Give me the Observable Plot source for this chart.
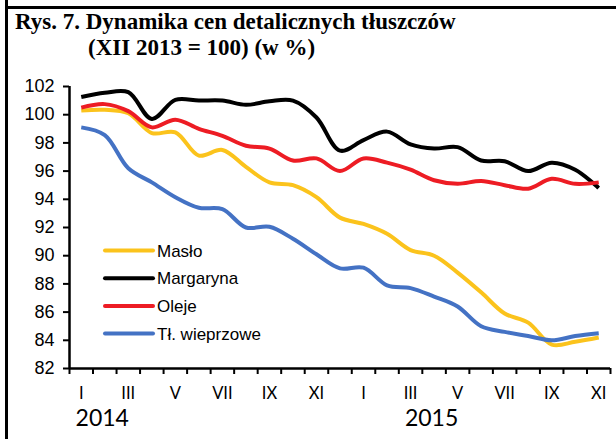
<!DOCTYPE html>
<html>
<head>
<meta charset="utf-8">
<script src="https://cdn.jsdelivr.net/npm/d3@7"></script>
<script src="https://cdn.jsdelivr.net/npm/@observablehq/plot@0.6"></script>
<style>
  body { margin: 0; background: #fff; }
  #fig { position: relative; width: 616px; height: 439px; overflow: hidden; background: #fff; }
  .frame-top { position: absolute; left: 5px; top: 6px; width: 611px; height: 2.5px; background: #000; }
  .frame-left { position: absolute; left: 5px; top: 0; width: 2.5px; height: 439px; background: #000; }
  .title { position: absolute; font-family: "Liberation Serif", "Times New Roman", serif; font-weight: bold;
           font-size: 23px; line-height: 26px; white-space: nowrap; color: #000; }
  #chart { position: absolute; left: 0; top: 66px; }
</style>
</head>
<body>
<div id="fig">
  <div class="frame-top"></div>
  <div class="frame-left"></div>
  <div class="title" style="left:15px; top:9px;">Rys. 7. Dynamika cen detalicznych tłuszczów</div>
  <div class="title" style="left:88px; top:35px;">(XII 2013 = 100) (w %)</div>
  <div id="chart"></div>
</div>
<script>
// Months I 2014 – XI 2015
const months = ["I","II","III","IV","V","VI","VII","VIII","IX","X","XI","XII",
                "I","II","III","IV","V","VI","VII","VIII","IX","X","XI"];
const yearLabels = ["2014", "2015"];
const yearAt = [1, 15];
const yTicks = [82, 84, 86, 88, 90, 92, 94, 96, 98, 100, 102];

// Retail price indices, XII 2013 = 100
const maslo     = [100.3, 100.35, 100.1, 98.7, 98.75, 97.1, 97.5, 96.3, 95.2, 95.0, 94.15, 92.7,
                   92.25, 91.55, 90.4, 90.0, 88.8, 87.4, 85.9, 85.25, 83.7, 83.9, 84.2];
const margaryna = [101.25, 101.55, 101.6, 99.7, 101.05, 101.0, 101.0, 100.7, 100.95, 101.0, 99.8, 97.45,
                   98.2, 98.8, 97.9, 97.6, 97.7, 96.75, 96.7, 96.0, 96.6, 96.1, 94.8];
const oleje     = [100.5, 100.75, 100.25, 99.1, 99.65, 99.0, 98.5, 97.8, 97.6, 96.75, 96.9, 96.0,
                   96.9, 96.6, 96.1, 95.35, 95.1, 95.3, 95.0, 94.75, 95.45, 95.1, 95.2];
const wieprzowe = [99.1, 98.55, 96.2, 95.2, 94.15, 93.4, 93.3, 92.0, 92.05, 91.2, 90.1, 89.1,
                   89.15, 87.9, 87.7, 87.1, 86.4, 85.0, 84.6, 84.3, 84.0, 84.3, 84.5];

const seriesNames = ["Masło", "Margaryna", "Oleje", "Tł. wieprzowe"];
const seriesValues = [maslo, margaryna, oleje, wieprzowe];
const seriesColors = ["#FBC31C", "#000000", "#ED1C24", "#4472C4"];

const rows = seriesNames.flatMap((name, s) =>
  seriesValues[s].map((v, i) => ({series: name, i, v})));

const chart = Plot.plot({
  width: 616,
  height: 373,
  marginTop: 20,
  marginBottom: 71,
  marginLeft: 69,
  marginRight: 6,
  style: {color: "#000", background: "transparent"},
  x: {domain: [-0.5, months.length - 0.5]},
  y: {domain: [82, 102]},
  color: {domain: seriesNames, range: seriesColors},
  marks: [
    Plot.axisY({ticks: yTicks, tickSize: 6, tickPadding: 9, strokeWidth: 2,
                fontSize: 18, fontFamily: "Liberation Sans, Arial, sans-serif", label: null}),
    Plot.axisX({ticks: d3.range(-0.5, months.length, 1), tickSize: 6, strokeWidth: 2,
                tickFormat: () => "", label: null}),
    Plot.axisX({ticks: d3.range(0, months.length, 2), tickSize: 0, tickPadding: 19,
                tickFormat: i => months[i], fontSize: 16.5, fontFamily: "Lato, sans-serif", label: null}),
    Plot.text(yearLabels, {x: (d, k) => yearAt[k], frameAnchor: "bottom", dy: 57, dx: -2.5,
                           text: d => d, fontSize: 23, fontFamily: "Lato, sans-serif", fill: "#000"}),
    Plot.ruleX([-0.5], {y1: 82, y2: 102, strokeWidth: 2.5}),
    Plot.ruleY([82], {x1: -0.5, x2: months.length - 0.5, strokeWidth: 2.5}),
    Plot.line(rows, {x: "i", y: "v", z: "series", stroke: "series", strokeWidth: 4,
                     curve: "catmull-rom", strokeLinecap: "butt"})
  ]
});
document.getElementById("chart").append(chart);

// Legend inside the plot area
const svg = d3.select(chart);
const legend = svg.append("g").attr("text-anchor", "start");
seriesNames.forEach((name, k) => {
  const y = 184.5 + k * 27.7;
  legend.append("line").attr("x1", 105).attr("x2", 153).attr("y1", y).attr("y2", y)
    .attr("stroke", seriesColors[k]).attr("stroke-width", 4).attr("stroke-linecap", "round");
  legend.append("text").attr("x", 157).attr("y", y + 6)
    .attr("font-family", "Liberation Sans, Arial, sans-serif").attr("font-size", 17)
    .attr("fill", "#000").text(name);
});
</script>
</body>
</html>
